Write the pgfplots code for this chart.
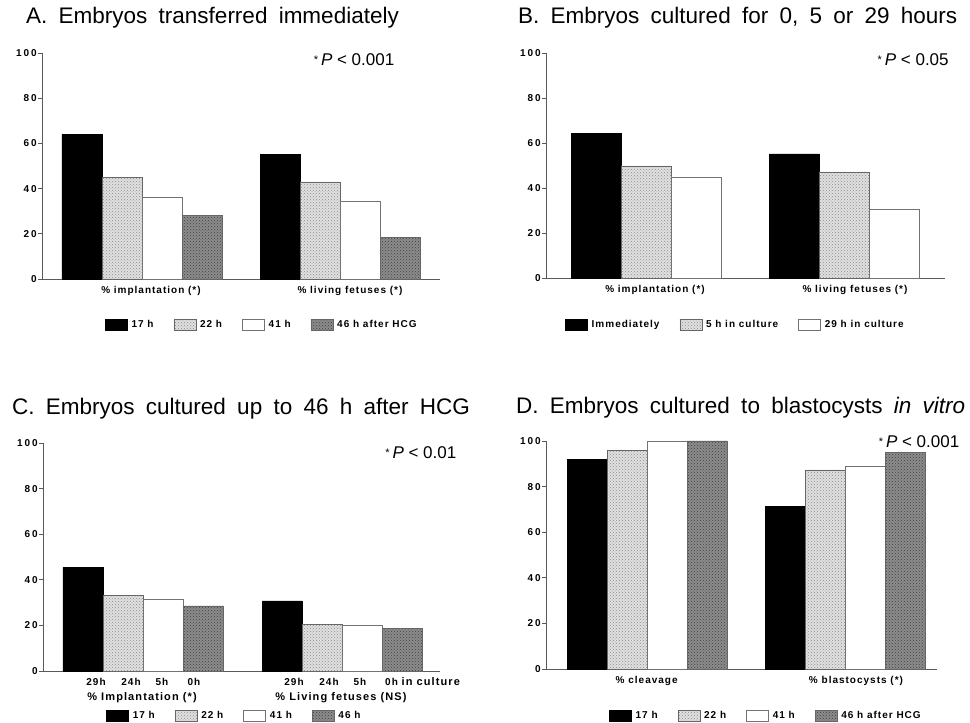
\documentclass[border=0pt]{standalone}
\usepackage{fontspec}
\setmainfont{Liberation Sans}
\newfontfamily\spacedfont[LetterSpace=10]{Liberation Sans}
\newfontfamily\tickfont[LetterSpace=20]{Liberation Sans}
\newfontfamily\titlefont[WordSpace=1.8]{Liberation Sans}
\usepackage{pgfplots}
\pgfplotsset{compat=1.18}
\usetikzlibrary{patterns}
\newcommand{\smallfont}{\spacedfont\bfseries\fontsize{10}{11}\selectfont}
\newcommand{\pstar}{\raisebox{2pt}{\fontsize{11}{11}\selectfont *}\,}
\pgfplotsset{
  s17/.style={fill=black, draw=black, line width=0.5pt},
  s22/.style={fill=black!12, draw=black!60, line width=0.5pt, postaction={pattern=crosshatch dots, pattern color=black!45}},
  s41/.style={fill=white, draw=black!55, line width=0.6pt},
  s46/.style={fill=black!45, draw=black!60, line width=0.5pt, postaction={pattern=crosshatch dots, pattern color=black!75}},
  panel/.style={
    scale only axis, anchor=south west, clip=false,
    axis x line*=bottom, axis y line*=left,
    axis line style={-, black!65, line width=0.7pt},
    ymin=0, ymax=100, ytick={0,20,40,60,80,100},
    xmin=0,
    tick align=outside, major tick length=4pt,
    ytick style={black!65, line width=0.6pt},
    xtick style={draw=none},
    yticklabel style={font=\tickfont\bfseries\fontsize{10}{11}\selectfont, inner xsep=1pt, /pgf/number format/assume math mode=true},
    xticklabel style={font=\smallfont},
    ybar, bar width=40,
    every axis plot/.append style={bar shift=0pt},
    legend image code/.code={\draw[##1] (0pt,-5.5pt) rectangle (22pt,5.5pt);},
    legend columns=-1,
    legend style={draw=none, fill=none, anchor=west, inner sep=0pt, font=\smallfont,
      nodes={inner xsep=0pt, inner ysep=1pt},
      /tikz/every odd column/.append style={column sep=4pt},
      /tikz/every even column/.append style={column sep=20pt}},
  }
}
\begin{document}
\begin{tikzpicture}
\path[use as bounding box] (0pt,0pt) rectangle (970pt,723pt);
% titles
\node[anchor=base west, inner sep=0pt, font=\titlefont\fontsize{22.5}{26}\selectfont] at (26pt,699pt) {A. Embryos transferred immediately};
\node[anchor=base west, inner sep=0pt, font=\titlefont\fontsize{22.5}{26}\selectfont] at (518pt,699pt) {B. Embryos cultured for 0, 5 or 29 hours};
\node[anchor=base west, inner sep=0pt, font=\titlefont\fontsize{22.5}{26}\selectfont] at (12pt,308pt) {C. Embryos cultured up to 46 h after HCG};
\node[anchor=base west, inner sep=0pt, font=\titlefont\fontsize{22.5}{26}\selectfont] at (516pt,309pt) {D. Embryos cultured to blastocysts \textit{in vitro}};

% Panel A
\begin{axis}[panel, at={(42pt,444pt)}, width=398pt, height=226pt, xmax=398,
  xtick={109,308}, xticklabels={\% implantation (*), \% living fetuses (*)},
  legend style={at={(0.158,-0.2035)}}]
\addplot[s17, bar shift=0pt] coordinates {(40,64) (238,55)};
\addlegendentry{17 h}
\addplot[s22, bar shift=0pt] coordinates {(80,45) (278,43)};
\addlegendentry{22 h}
\addplot[s41, bar shift=0pt] coordinates {(120,36) (318,34.5)};
\addlegendentry{41 h}
\addplot[s46, bar shift=0pt] coordinates {(160,28.3) (358,18.3)};
\addlegendentry{46 h after HCG}
\node[anchor=east, font=\fontsize{17}{20}\selectfont] at (axis description cs:0.894,0.969) {\pstar\textit{P} < 0.001};
\end{axis}

% Panel B
\begin{axis}[panel, at={(546pt,445pt)}, width=399pt, height=225pt, xmax=399, bar width=50,
  xtick={109,309}, xticklabels={\% implantation (*), \% living fetuses (*)},
  legend style={at={(0.0476,-0.209)}}]
\addplot[s17, bar shift=0pt] coordinates {(50,64.2) (248,55.2)};
\addlegendentry{Immediately}
\addplot[s22, bar shift=0pt] coordinates {(100,49.8) (298,47.2)};
\addlegendentry{5 h in culture}
\addplot[s41, bar shift=0pt] coordinates {(150,44.9) (348,30.4)};
\addlegendentry{29 h in culture}
\node[anchor=east, font=\fontsize{17}{20}\selectfont] at (axis description cs:1.018,0.969) {\pstar\textit{P} < 0.05};
\end{axis}

% Panel C
\begin{axis}[panel, at={(43pt,52pt)}, width=397pt, height=228pt, xmax=397,
  xtick={99,298}, xticklabels={\% Implantation (*), \% Living fetuses (NS)},
  xticklabel style={yshift=-14pt, font=\spacedfont\bfseries\fontsize{11}{12}\selectfont},
  legend style={at={(0.159,-0.197)}}]
\addplot[s17, bar shift=0pt] coordinates {(40,45.5) (239,30.8)};
\addlegendentry{17 h}
\addplot[s22, bar shift=0pt] coordinates {(80,33.3) (279,20.6)};
\addlegendentry{22 h}
\addplot[s41, bar shift=0pt] coordinates {(120,31.3) (319,19.9)};
\addlegendentry{41 h}
\addplot[s46, bar shift=0pt] coordinates {(160,28.6) (359,18.7)};
\addlegendentry{46 h}
\node[font=\smallfont, yshift=-11pt] at (axis cs:53,0) {29h};
\node[font=\smallfont, yshift=-11pt] at (axis cs:88,0) {24h};
\node[font=\smallfont, yshift=-11pt] at (axis cs:119,0) {5h};
\node[font=\smallfont, yshift=-11pt] at (axis cs:151,0) {0h};
\node[font=\smallfont, yshift=-11pt] at (axis cs:251,0) {29h};
\node[font=\smallfont, yshift=-11pt] at (axis cs:286,0) {24h};
\node[font=\smallfont, yshift=-11pt] at (axis cs:317,0) {5h};
\node[font=\smallfont, yshift=-11pt, anchor=west, inner xsep=0pt] at (axis cs:342,0) {0h {\spacedfont\fontsize{11}{12}\selectfont in culture}};
\node[anchor=east, font=\fontsize{17}{20}\selectfont] at (axis description cs:1.05,0.956) {\pstar\textit{P} < 0.01};
\end{axis}

% Panel D
\begin{axis}[panel, at={(546pt,54pt)}, width=391pt, height=228pt, xmax=391,
  xtick={100.7,310}, xticklabels={\% cleavage, \% blastocysts (*)},
  legend style={at={(0.161,-0.206)}}]
\addplot[s17, bar shift=0pt] coordinates {(41,92) (239,71.2)};
\addlegendentry{17 h}
\addplot[s22, bar shift=0pt] coordinates {(81,95.9) (279,87.3)};
\addlegendentry{22 h}
\addplot[s41, bar shift=0pt] coordinates {(121,100) (319,89)};
\addlegendentry{41 h}
\addplot[s46, bar shift=0pt] coordinates {(161,100) (359,95)};
\addlegendentry{46 h after HCG}
\node[anchor=east, font=\fontsize{17}{20}\selectfont] at (axis description cs:1.066,0.996) {\pstar\textit{P} < 0.001};
\end{axis}
\end{tikzpicture}
\end{document}
